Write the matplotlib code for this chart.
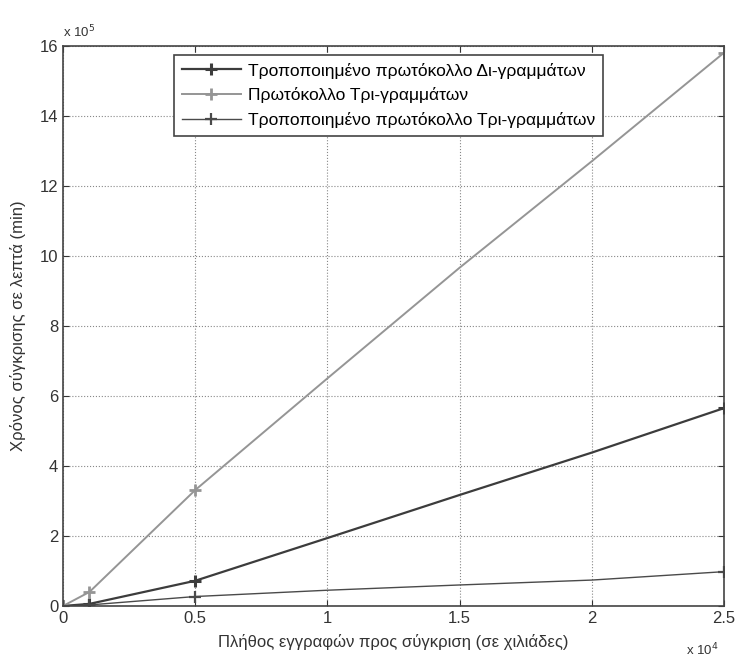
import numpy as np
import matplotlib
matplotlib.use('Agg')
import matplotlib.pyplot as plt
from matplotlib.ticker import FuncFormatter

plt.rcParams['font.family'] = ['Liberation Sans', 'DejaVu Sans']

# records compared (x), time in minutes
records = [0, 1000, 5000, 10000, 15000, 20000, 25000]
mod_di = [0, 0.06e5, 0.72e5, 1.94e5, 3.17e5, 4.38e5, 5.65e5]
tri = [0, 0.4e5, 3.31e5, 6.5e5, 9.66e5, 12.7e5, 15.8e5]
mod_tri = [0, 0.03e5, 0.27e5, 0.45e5, 0.6e5, 0.74e5, 0.98e5]

labels = ['Τροποποιημένο πρωτόκολλο Δι-γραμμάτων',
          'Πρωτόκολλο Τρι-γραμμάτων',
          'Τροποποιημένο πρωτόκολλο Τρι-γραμμάτων']
marks = [0, 1, 2, 6]

fig = plt.figure(figsize=(7.36, 6.63), dpi=100)
ax = fig.add_axes([0.0856, 0.086, 0.898, 0.845])

ax.plot(records, mod_di, '-+', color='#3c3c3c', lw=1.6, ms=9, mew=2.2,
        markevery=marks, label=labels[0])
ax.plot(records, tri, '-+', color='#959595', lw=1.4, ms=9, mew=2.0,
        markevery=marks, label=labels[1])
ax.plot(records, mod_tri, '-+', color='#4a4a4a', lw=1.0, ms=9, mew=1.6,
        markevery=marks, label=labels[2])

ax.set_xlim(0, 25000)
ax.set_ylim(0, 16e5)
ax.set_xticks(np.arange(0, 25001, 5000))
ax.set_yticks(np.arange(0, 16.01e5, 2e5))
ax.xaxis.set_major_formatter(FuncFormatter(lambda v, p: '%g' % (v / 1e4)))
ax.yaxis.set_major_formatter(FuncFormatter(lambda v, p: '%g' % (v / 1e5)))
ax.tick_params(direction='in', top=True, right=True, labelsize=12, colors='#333333', length=4)
ax.grid(True, linestyle=':', color='#888888', lw=0.8)
for s in ax.spines.values():
    s.set_color('#444444')
    s.set_linewidth(1.2)

ax.text(0, 1.01, 'x 10$^5$', transform=ax.transAxes, fontsize=9.5, color='#333333', va='bottom')
ax.text(0.992, -0.078, 'x 10$^4$', transform=ax.transAxes, fontsize=9.5, color='#333333',
        ha='right', va='center')

ax.set_xlabel('Πλήθος εγγραφών προς σύγκριση (σε χιλιάδες)', fontsize=12, color='#333333', labelpad=6)
ax.set_ylabel('Χρόνος σύγκρισης σε λεπτά (min)', fontsize=12, color='#333333', labelpad=10)

leg = ax.legend(loc='upper center', bbox_to_anchor=(0.492, 0.984), fontsize=12.5, fancybox=False,
                framealpha=1, edgecolor='#444444', handlelength=3.4, borderpad=0.45,
                labelspacing=0.5, handletextpad=0.4, borderaxespad=0)
leg.get_frame().set_linewidth(1.2)

fig.savefig('out.png', dpi=100)
